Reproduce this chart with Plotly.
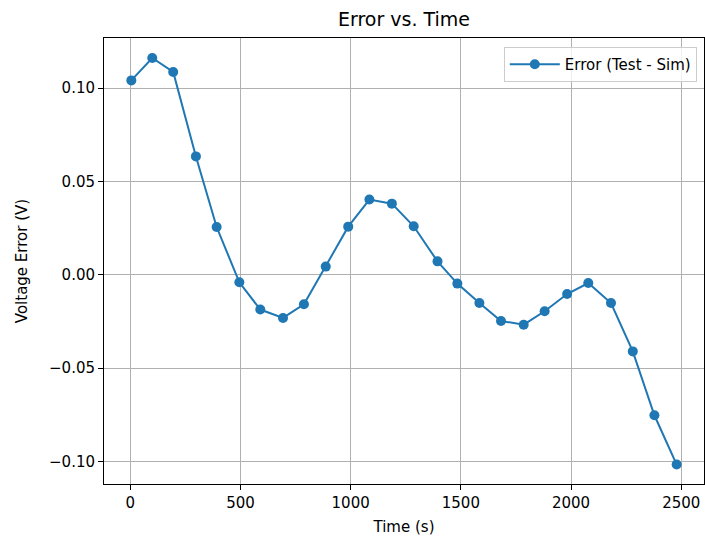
import plotly.graph_objects as go

time_s = [5, 100, 195, 298, 392, 495, 590, 693, 788, 887, 989, 1085, 1187,
          1286, 1394, 1484, 1584, 1682, 1785, 1880, 1982, 2078, 2181, 2280, 2378, 2479]
error_v = [0.1041, 0.1161, 0.1086, 0.0634, 0.0256, -0.0040, -0.0186, -0.0231,
           -0.0158, 0.0044, 0.0258, 0.0403, 0.0381, 0.0260, 0.0072, -0.0047,
           -0.0151, -0.0247, -0.0267, -0.0195, -0.0103, -0.0044, -0.0151,
           -0.0410, -0.0752, -0.1016]

x_ticks = [0, 500, 1000, 1500, 2000, 2500]
x_tick_text = ["0", "500", "1000", "1500", "2000", "2500"]
y_ticks = [-0.10, -0.05, 0.00, 0.05, 0.10]
y_tick_text = ["\u22120.10", "\u22120.05", "0.00", "0.05", "0.10"]

font = "DejaVu Sans"

fig = go.Figure()
fig.add_trace(go.Scatter(
    x=time_s, y=error_v, mode="lines+markers",
    name="Error (Test - Sim)",
    line=dict(color="#1f77b4", width=2),
    marker=dict(color="#1f77b4", size=10),
))

axis_common = dict(
    showline=True, linecolor="black", linewidth=1, mirror=True,
    ticks="outside", ticklen=5, tickwidth=1, tickcolor="black",
    showgrid=True, gridcolor="#b0b0b0", gridwidth=1,
    zeroline=False,
    tickfont=dict(family=font, size=15, color="black"),
)

fig.update_layout(
    width=705, height=540,
    margin=dict(l=104, r=1, t=38, b=56),
    paper_bgcolor="white", plot_bgcolor="white",
    font=dict(family=font, color="black"),
    title=dict(text="Error vs. Time", x=(104 + 704) / 2 / 705, xanchor="center",
               y=1 - 19 / 540, yanchor="middle",
               font=dict(family=font, size=19, color="black")),
    xaxis=dict(range=[-119, 2603], tickvals=x_ticks, ticktext=x_tick_text,
               title=dict(text="Time (s)", font=dict(family=font, size=15), standoff=10),
               **axis_common),
    yaxis=dict(range=[-0.112, 0.1268], tickvals=y_ticks, ticktext=y_tick_text,
               title=dict(text="Voltage Error (V)", font=dict(family=font, size=15), standoff=17),
               **axis_common),
    legend=dict(x=0.988, y=0.98, xanchor="right", yanchor="top",
                bgcolor="rgba(255,255,255,0.8)", bordercolor="#cccccc", borderwidth=1,
                itemwidth=50,
                font=dict(family=font, size=15, color="black")),
    showlegend=True,
)

fig.write_html("out.html", config={"displayModeBar": False})

with open("out.html", "r", encoding="utf-8") as f:
    html = f.read()
html = html.replace("<head>", "<head><style>html,body{margin:0;padding:0;overflow:hidden;}</style>", 1)
with open("out.html", "w", encoding="utf-8") as f:
    f.write(html)
